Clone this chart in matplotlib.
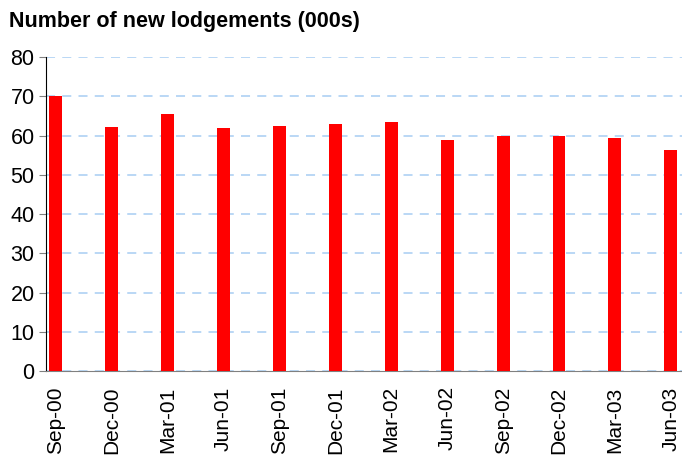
import matplotlib.pyplot as plt
import numpy as np

plt.rcParams['font.family'] = ['Liberation Sans', 'DejaVu Sans']

quarters = ['Sep-00', 'Dec-00', 'Mar-01', 'Jun-01', 'Sep-01', 'Dec-01',
            'Mar-02', 'Jun-02', 'Sep-02', 'Dec-02', 'Mar-03', 'Jun-03']
lodgements = [70.0, 62.2, 65.5, 61.9, 62.4, 62.9,
              63.4, 58.9, 59.9, 59.9, 59.4, 56.4]

fig = plt.figure(figsize=(6.82, 4.57), dpi=100)
ax = fig.add_axes([0.067, 0.188, 0.933, 0.687])

x = np.arange(len(quarters))
ax.bar(x, lodgements, width=0.23, color='#ff0000', zorder=3)

# dashed light blue gridlines
ax.yaxis.grid(True, color='#b4d4f5', linestyle=(0, (5, 4)), linewidth=1.3, zorder=0)
ax.set_axisbelow(True)

ax.set_ylim(0, 80)
ax.set_yticks(range(0, 81, 10))
ax.set_xlim(-0.18, 11.2)
ax.set_xticks(x)
ax.set_xticklabels(quarters, rotation=90, fontsize=15)
ax.tick_params(axis='y', labelsize=15.5, length=5, color='#808080', direction='out', pad=3)
ax.tick_params(axis='x', length=0, pad=11)

for side in ['top', 'right']:
    ax.spines[side].set_visible(False)
ax.spines['left'].set_color('black')
ax.spines['bottom'].set_color('#808080')

fig.text(0.013, 0.953, 'Number of new lodgements (000s)', fontsize=15.5,
         fontweight='bold', ha='left', va='center')

fig.savefig('out.png', dpi=100)
